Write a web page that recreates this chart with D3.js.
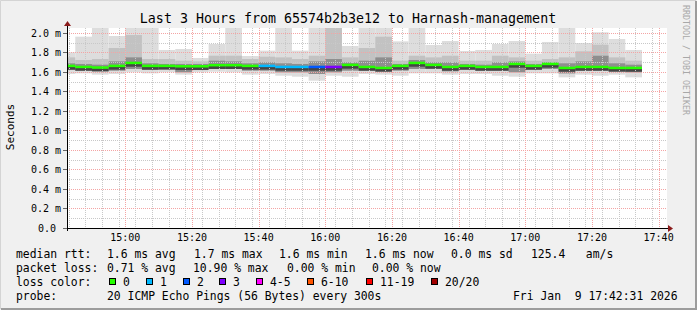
<!DOCTYPE html>
<meta charset="utf-8">
<head>
  <title>Smokeping latency</title>
</head>

<style>
body { margin: 0; background: #f0f0f0; }
text {
  font-family: "DejaVu Sans Mono", monospace;
  fill: black;
  white-space: pre;
}
.minor line { stroke: #c8c8c8; stroke-dasharray: 1,1; }
.major line { stroke: #f4a4a4; stroke-dasharray: 1,1; }
</style>

<body>
  <svg width="697" height="310"></svg>

  <script src="https://cdnjs.cloudflare.com/ajax/libs/d3/7.8.5/d3.min.js"></script>
  <script>
// one bar per 5 minute step, values in ms
var pingMax = [1.801,1.961,2.25,1.968,2.25,2.25,1.825,1.835,1.743,1.886,2.25,1.763,1.818,2.25,1.818,2.25,2.25,1.866,
  2.25,2.25,1.913,2.25,1.876,1.917,1.814,1.825,1.886,1.917,1.787,1.907,2.25,1.896,2.006,1.937,1.825];
var pingMidTop = [1.749,1.722,1.732,1.845,1.978,1.732,1.732,1.715,1.708,1.766,1.766,1.732,1.756,1.749,1.732,1.766,2.2,1.749,
  1.845,1.961,1.715,1.766,1.749,1.766,1.715,1.715,1.766,1.749,1.715,1.732,1.749,1.811,1.879,1.749,1.715];
var pingCoreTop = [1.688,1.681,1.674,1.708,1.749,1.688,1.681,1.681,1.681,1.715,1.708,1.688,1.698,1.688,1.681,1.708,1.732,1.698,
  1.715,1.749,1.681,1.722,1.698,1.698,1.681,1.674,1.698,1.708,1.681,1.698,1.688,1.708,1.766,1.688,1.674];
var median = [1.654,1.643,1.637,1.654,1.684,1.654,1.654,1.650,1.650,1.661,1.661,1.654,1.654,1.643,1.643,1.643,1.643,1.664,
  1.643,1.633,1.654,1.684,1.664,1.643,1.654,1.643,1.643,1.674,1.654,1.674,1.633,1.643,1.643,1.633,1.633];
var pingCoreBot = [1.620,1.613,1.606,1.613,1.630,1.620,1.630,1.596,1.630,1.630,1.630,1.613,1.613,1.596,1.596,1.579,1.596,1.613,
  1.613,1.606,1.613,1.630,1.630,1.606,1.620,1.613,1.613,1.596,1.620,1.630,1.585,1.613,1.613,1.606,1.596];
var pingMin = [1.579,1.585,1.572,1.579,1.596,1.585,1.596,1.572,1.596,1.602,1.596,1.572,1.579,1.561,1.551,1.510,1.561,1.551,
  1.579,1.572,1.561,1.585,1.585,1.572,1.579,1.579,1.561,1.551,1.585,1.585,1.544,1.572,1.561,1.572,1.544];
// index into lossLabels for each bar
var lossClass = [0,0,0,0,0,0,0,0,0,0,0,0,1,1,1,2,3,0,0,0,0,0,0,0,0,0,0,0,0,0,0,0,0,0,0];

var lossLabels = ['0', '1', '2', '3', '4-5', '6-10', '11-19', '20/20'];
var lossColors = ['#26ff00', '#00b8ff', '#0059ff', '#7e00ff', '#ff00ff', '#ff5500', '#ff0000', '#a10000'];
var lossBoxX = [109, 146, 183, 219, 256, 307, 366, 431];

var legendRows = [
  [['median rtt:', 16], ['1.6 ms avg', 107], ['1.7 ms max', 194], ['1.6 ms min', 279], ['1.6 ms now', 365], ['0.0 ms sd', 451], ['125.4   am/s', 531]],
  [['packet loss:', 16], ['0.71 % avg', 107], ['10.90 % max', 193], ['0.00 % min', 287], ['0.00 % now', 372]],
  [['loss color:', 16]],
  [['probe:', 16], ['20 ICMP Echo Pings (56 Bytes) every 300s', 107], ['Fri Jan  9 17:42:31 2026', 513]]
];

var tStart = new Date(2026, 0, 9, 14, 42, 31);
var tEnd = new Date(2026, 0, 9, 17, 42, 31);
var stepEnds = d3.timeMinutes(new Date(2026, 0, 9, 14, 45), new Date(2026, 0, 9, 17, 36), 5);

var plotLeft = 67, plotRight = 667, plotTop = 28, plotBottom = 228;

var x = d3.scaleTime().domain([tStart, tEnd]).range([plotLeft, plotRight]);
var y = d3.scaleLinear().domain([0, 2.05]).range([plotBottom, plotTop]);

var svg = d3.select('svg');

// frame
svg.append('rect').attr('width', 697).attr('height', 310).attr('fill', '#f0f0f0');
svg.append('path').attr('d', 'M0.5,309 V0.5 H696').attr('fill', 'none').attr('stroke', '#d4d4d4');
svg.append('path').attr('d', 'M1,309 H696 V1').attr('fill', 'none').attr('stroke', '#9c9c9c').attr('stroke-width', 2);

svg.append('rect')
  .attr('x', plotLeft).attr('y', plotTop)
  .attr('width', plotRight - plotLeft).attr('height', plotBottom - plotTop)
  .attr('fill', 'white');

svg.append('clipPath').attr('id', 'plot')
  .append('rect')
  .attr('x', plotLeft).attr('y', plotTop)
  .attr('width', plotRight - plotLeft).attr('height', plotBottom - plotTop);

var bars = stepEnds.map(function(t, i) {
  return {
    x0: Math.max(x(d3.timeMinute.offset(t, -5)), plotLeft),
    x1: x(t),
    i: i
  };
});

var plot = svg.append('g').attr('clip-path', 'url(#plot)');

// smoke layers, outer to inner
var layers = [
  [pingMin, pingMax, '#dddddd'],
  [pingCoreBot, pingMidTop, '#c2c2c2'],
  [pingCoreBot, pingCoreTop, '#8e8e8e']
];

layers.forEach(function(l) {
  plot.append('g')
    .selectAll('rect')
    .data(bars)
    .enter()
    .append('rect')
    .attr('x', function(d) { return d.x0; })
    .attr('width', function(d) { return d.x1 - d.x0; })
    .attr('y', function(d) { return y(l[1][d.i]); })
    .attr('height', function(d) { return y(l[0][d.i]) - y(l[1][d.i]); })
    .attr('fill', l[2]);
});

// dark core just under the median
plot.append('g')
  .selectAll('rect')
  .data(bars)
  .enter()
  .append('rect')
  .attr('x', function(d) { return d.x0; })
  .attr('width', function(d) { return d.x1 - d.x0; })
  .attr('y', function(d) { return y(median[d.i]); })
  .attr('height', 3)
  .attr('fill', '#454545');

// grid on top of the smoke
var minor = svg.append('g').attr('class', 'minor');
minor.selectAll('.v')
  .data(d3.timeMinutes(tStart, tEnd, 5))
  .enter().append('line')
  .attr('x1', function(d) { return Math.round(x(d)) + 0.5; })
  .attr('x2', function(d) { return Math.round(x(d)) + 0.5; })
  .attr('y1', plotTop).attr('y2', plotBottom);
minor.selectAll('.h')
  .data(y.ticks(20))
  .enter().append('line')
  .attr('x1', plotLeft).attr('x2', plotRight)
  .attr('y1', function(d) { return Math.round(y(d)) + 0.5; })
  .attr('y2', function(d) { return Math.round(y(d)) + 0.5; });

var major = svg.append('g').attr('class', 'major');
var majorTimes = d3.timeMinute.every(20).range(tStart, tEnd);
major.selectAll('.v')
  .data(majorTimes)
  .enter().append('line')
  .attr('x1', function(d) { return Math.round(x(d)) + 0.5; })
  .attr('x2', function(d) { return Math.round(x(d)) + 0.5; })
  .attr('y1', plotTop).attr('y2', plotBottom);
major.selectAll('.h')
  .data(y.ticks(10).filter(function(d) { return d > 0; }))
  .enter().append('line')
  .attr('x1', plotLeft).attr('x2', plotRight)
  .attr('y1', function(d) { return Math.round(y(d)) + 0.5; })
  .attr('y2', function(d) { return Math.round(y(d)) + 0.5; });

// median line coloured by loss
svg.append('g')
  .selectAll('rect')
  .data(bars)
  .enter()
  .append('rect')
  .attr('x', function(d) { return d.x0; })
  .attr('width', function(d) { return d.x1 - d.x0; })
  .attr('y', function(d) { return y(median[d.i]) - 2; })
  .attr('height', 2.5)
  .attr('fill', function(d) { return lossColors[lossClass[d.i]]; });

// axes
svg.append('line').attr('x1', plotLeft + 0.5).attr('x2', plotLeft + 0.5).attr('y1', plotBottom + 3).attr('y2', 25).attr('stroke', 'black');
svg.append('line').attr('x1', 63).attr('x2', 669).attr('y1', plotBottom + 0.5).attr('y2', plotBottom + 0.5).attr('stroke', 'black');
svg.append('path').attr('d', 'M64,26 L71,26 L67.5,21 Z').attr('fill', '#8b1c1c');
svg.append('path').attr('d', 'M668,225 L668,232 L673,228.5 Z').attr('fill', '#8b1c1c');

var yLabels = svg.append('g');
y.ticks(10).forEach(function(d) {
  var yy = Math.round(y(d)) + 0.5;
  yLabels.append('line').attr('x1', 63).attr('x2', plotLeft).attr('y1', yy).attr('y2', yy).attr('stroke', '#666');
  yLabels.append('text')
    .attr('x', d === 0 ? 56 : 61)
    .attr('y', yy)
    .attr('dy', '0.35em')
    .attr('text-anchor', 'end')
    .style('font-size', '10px')
    .text(d === 0 ? '0.0' : d3.format('.1f')(d) + ' m');
});

svg.append('g')
  .selectAll('text')
  .data(majorTimes)
  .enter()
  .append('text')
  .attr('x', function(d) { return x(d); })
  .attr('y', 241)
  .attr('text-anchor', 'middle')
  .style('font-size', '10px')
  .text(d3.timeFormat('%H:%M'));

svg.append('text')
  .attr('transform', 'translate(14,127) rotate(-90)')
  .attr('text-anchor', 'middle')
  .style('font-size', '11px')
  .text('Seconds');

svg.append('text')
  .attr('x', 348).attr('y', 23)
  .attr('text-anchor', 'middle')
  .style('font-size', '13.3px')
  .text('Last 3 Hours from 65574b2b3e12 to Harnash-management');

svg.append('text')
  .attr('transform', 'translate(683,5) rotate(90)')
  .style('font-size', '8.3px')
  .style('fill', '#a8a8a8')
  .text('RRDTOOL / TOBI OETIKER');

// legend
legendRows.forEach(function(row, r) {
  row.forEach(function(item) {
    svg.append('text')
      .attr('x', item[1])
      .attr('y', 258 + r * 14)
      .style('font-size', '11.4px')
      .text(item[0]);
  });
});

lossLabels.forEach(function(lab, i) {
  svg.append('rect')
    .attr('x', lossBoxX[i] + 0.5).attr('y', 278.5)
    .attr('width', 6).attr('height', 6)
    .attr('fill', lossColors[i])
    .attr('stroke', 'black');
  svg.append('text')
    .attr('x', lossBoxX[i] + 14)
    .attr('y', 286)
    .style('font-size', '11.4px')
    .text(lab);
});
  </script>
</body>
</html>
